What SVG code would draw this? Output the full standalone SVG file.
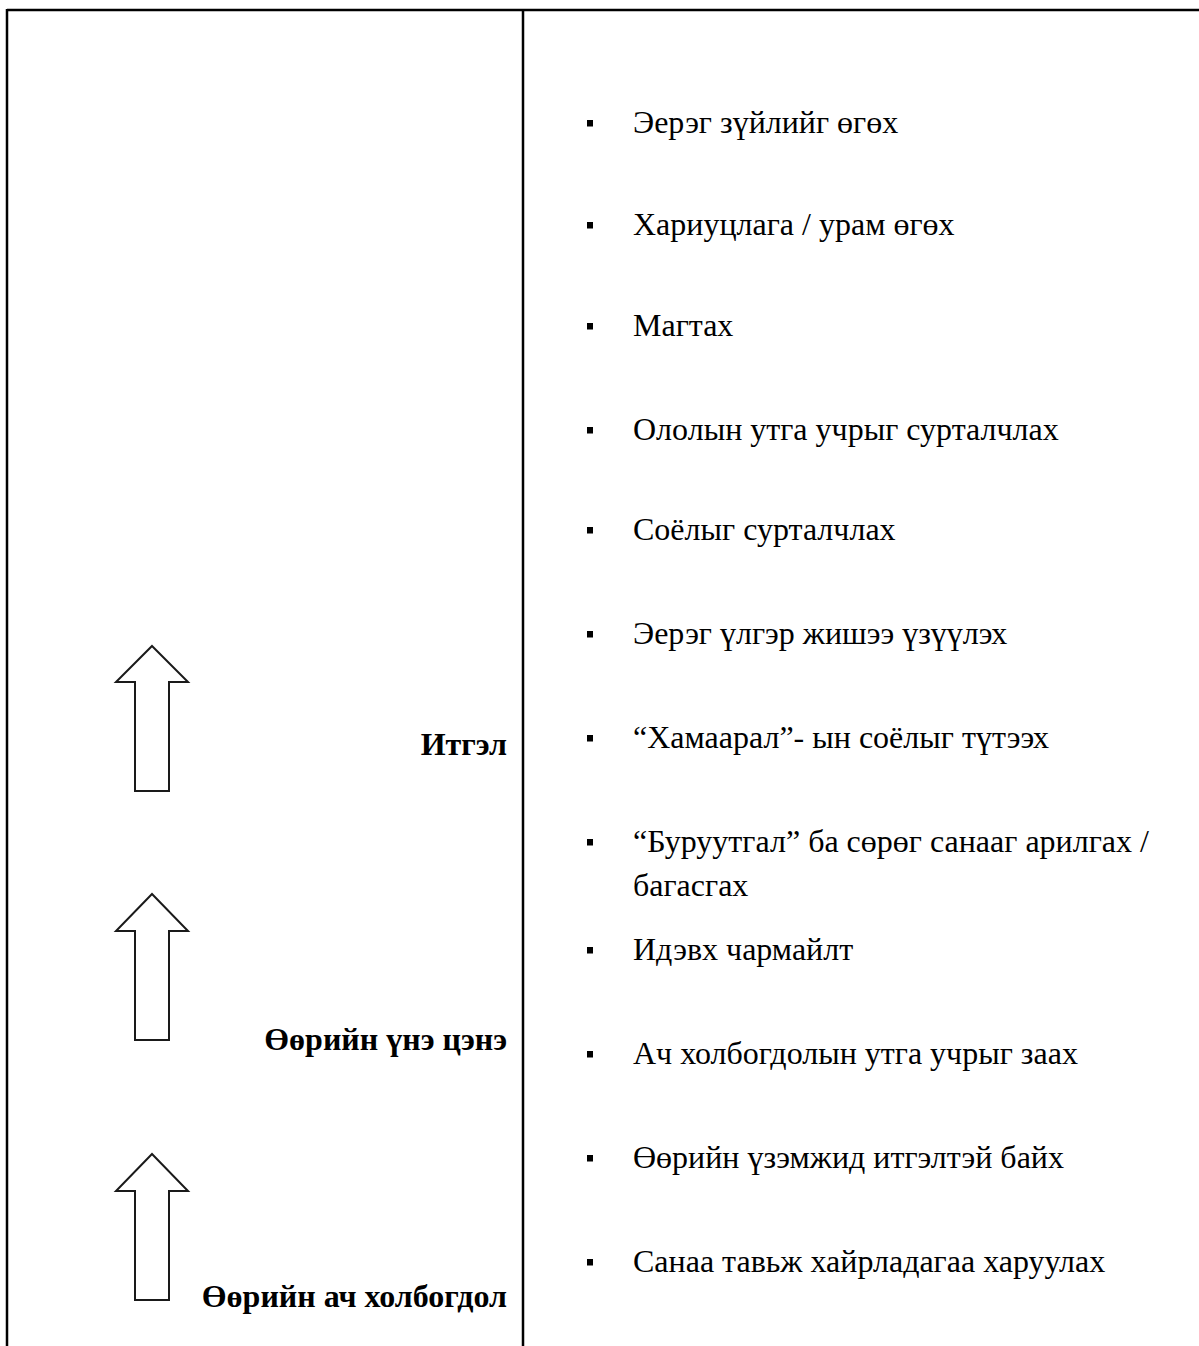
<svg xmlns="http://www.w3.org/2000/svg" width="1199" height="1346" viewBox="0 0 1199 1346">
<style>
.frame{stroke:#000;stroke-width:2.5;fill:none}
.arrow{fill:#fff;stroke:#1a1a1a;stroke-width:2}
.lbl{font-family:"Liberation Serif","Times New Roman",serif;font-weight:bold;font-size:32px;fill:#000;text-anchor:end}
.item{font-family:"Liberation Serif","Times New Roman",serif;font-size:32px;fill:#000}
.bul{fill:#000}
</style>
<rect width="1199" height="1346" fill="#fff"/>
<g id="frame">
<line class="frame" x1="7" y1="10" x2="1199" y2="10"/>
<line class="frame" x1="7" y1="9" x2="7" y2="1346"/>
<line class="frame" x1="523" y1="9" x2="523" y2="1346"/>
</g>
<g id="connectors">
<polygon id="arrow1" class="arrow" points="152,646 188,682 169,682 169,791 135,791 135,682 116,682"/>
<polygon id="arrow2" class="arrow" points="152,894 188,931 169,931 169,1040 135,1040 135,931 116,931"/>
<polygon id="arrow3" class="arrow" points="152,1154 188,1191 169,1191 169,1300 135,1300 135,1191 116,1191"/>
</g>
<g id="label-itgel"><text class="lbl" x="507" y="755">Итгэл</text></g>
<g id="label-une"><text class="lbl" x="507" y="1050">Өөрийн үнэ цэнэ</text></g>
<g id="label-ach"><text class="lbl" x="507" y="1307">Өөрийн ач холбогдол</text></g>
<g id="items">
<g id="item1"><rect class="bul" x="587" y="120" width="6" height="6.5"/><text class="item" x="633" y="133">Эерэг зүйлийг өгөх</text></g>
<g id="item2"><rect class="bul" x="587" y="222" width="6" height="6.5"/><text class="item" x="633" y="235">Хариуцлага / урам өгөх</text></g>
<g id="item3"><rect class="bul" x="587" y="323" width="6" height="6.5"/><text class="item" x="633" y="336">Магтах</text></g>
<g id="item4"><rect class="bul" x="587" y="427" width="6" height="6.5"/><text class="item" x="633" y="440">Ололын утга учрыг сурталчлах</text></g>
<g id="item5"><rect class="bul" x="587" y="527" width="6" height="6.5"/><text class="item" x="633" y="540">Соёлыг сурталчлах</text></g>
<g id="item6"><rect class="bul" x="587" y="631" width="6" height="6.5"/><text class="item" x="633" y="644">Эерэг үлгэр жишээ үзүүлэх</text></g>
<g id="item7"><rect class="bul" x="587" y="735" width="6" height="6.5"/><text class="item" x="633" y="748">“Хамаарал”- ын соёлыг түтээх</text></g>
<g id="item8"><rect class="bul" x="587" y="839" width="6" height="6.5"/><text class="item" x="633" y="852">“Буруутгал” ба сөрөг санааг арилгах /</text><text class="item" x="633" y="896">багасгах</text></g>
<g id="item9"><rect class="bul" x="587" y="947" width="6" height="6.5"/><text class="item" x="633" y="960">Идэвх чармайлт</text></g>
<g id="item10"><rect class="bul" x="587" y="1051" width="6" height="6.5"/><text class="item" x="633" y="1064">Ач холбогдолын утга учрыг заах</text></g>
<g id="item11"><rect class="bul" x="587" y="1155" width="6" height="6.5"/><text class="item" x="633" y="1168">Өөрийн үзэмжид итгэлтэй байх</text></g>
<g id="item12"><rect class="bul" x="587" y="1259" width="6" height="6.5"/><text class="item" x="633" y="1272">Санаа тавьж хайрладагаа харуулах</text></g>
</g>
</svg>
